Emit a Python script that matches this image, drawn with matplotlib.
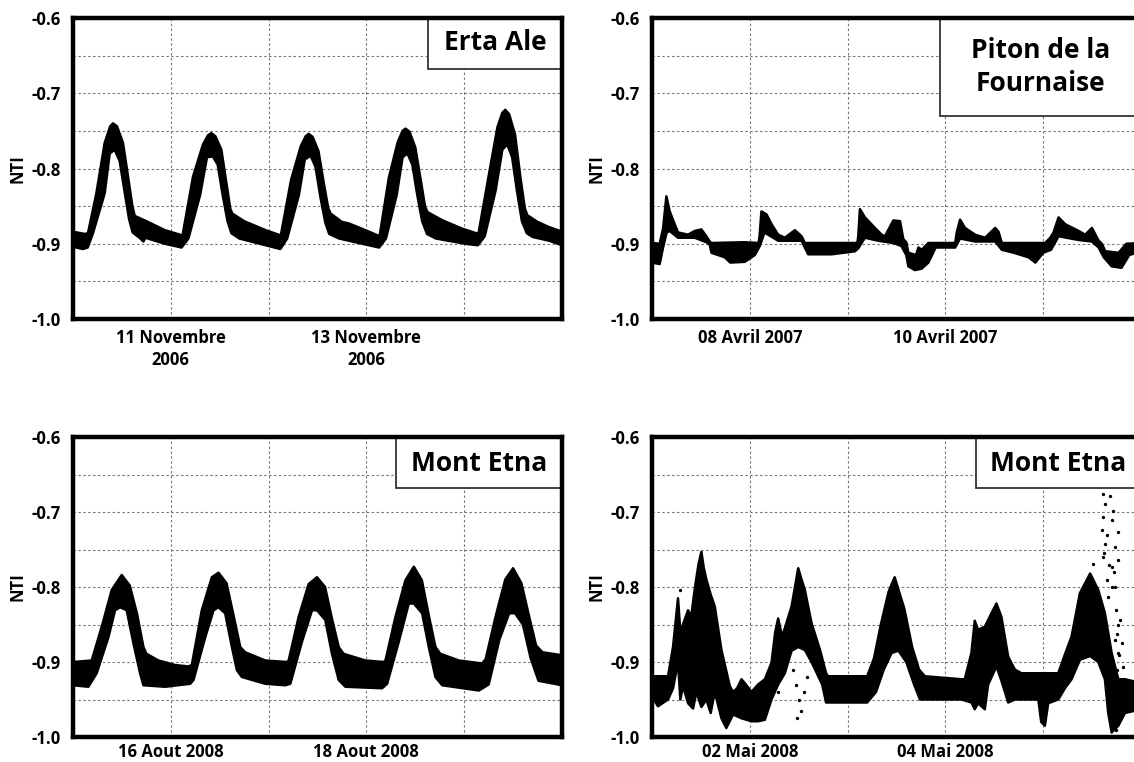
import numpy as np
import matplotlib
matplotlib.use("Agg")
import matplotlib.pyplot as plt
from matplotlib.patches import Rectangle
from matplotlib.ticker import MultipleLocator, FixedLocator

plt.rcParams['font.family'] = ['Open Sans', 'DejaVu Sans']
plt.rcParams['font.weight'] = 'bold'

# ---------------- data (days since panel start, NTI) ----------------
# Erta Ale, Nov 2006 : upper / lower envelope of the dense point cloud
erta_days_up = [0.000, 0.120, 0.153, 0.239, 0.324, 0.380, 0.409, 0.450, 0.511, 0.562, 0.607, 0.631, 0.750, 0.940, 1.120,
                1.227, 1.329, 1.380, 1.414, 1.455, 1.517, 1.568, 1.609, 1.630, 1.750, 1.970, 2.125,
                2.230, 2.330, 2.380, 2.410, 2.450, 2.510, 2.565, 2.610, 2.635, 2.750, 2.820, 2.990, 3.135,
                3.230, 3.320, 3.370, 3.400, 3.440, 3.500, 3.555, 3.600, 3.625, 3.780, 3.980, 4.145,
                4.250, 4.340, 4.390, 4.420, 4.460, 4.520, 4.575, 4.620, 4.645, 4.750, 4.870, 5.000]
erta_nti_up = [-0.884, -0.887, -0.886, -0.833, -0.766, -0.744, -0.740, -0.744, -0.766, -0.810, -0.850, -0.863, -0.870, -0.882, -0.889,
               -0.811, -0.768, -0.756, -0.753, -0.757, -0.775, -0.819, -0.854, -0.860, -0.870, -0.882, -0.889,
               -0.815, -0.770, -0.757, -0.754, -0.758, -0.777, -0.820, -0.853, -0.860, -0.871, -0.873, -0.882, -0.890,
               -0.812, -0.765, -0.750, -0.747, -0.751, -0.772, -0.815, -0.851, -0.858, -0.869, -0.880, -0.887,
               -0.810, -0.745, -0.726, -0.722, -0.728, -0.755, -0.812, -0.853, -0.862, -0.871, -0.878, -0.884]
erta_days_lo = [0.000, 0.100, 0.150, 0.204, 0.324, 0.375, 0.426, 0.477, 0.528, 0.573, 0.610, 0.680, 0.720, 0.740, 0.940, 1.110,
                1.180, 1.300, 1.370, 1.430, 1.480, 1.530, 1.580, 1.620, 1.700, 1.850, 2.120,
                2.190, 2.310, 2.370, 2.430, 2.480, 2.530, 2.580, 2.620, 2.720, 2.890, 3.130,
                3.200, 3.310, 3.370, 3.420, 3.470, 3.520, 3.570, 3.620, 3.710, 4.010, 4.140,
                4.210, 4.320, 4.390, 4.440, 4.490, 4.540, 4.590, 4.640, 4.700, 4.870, 5.000]
erta_nti_lo = [-0.904, -0.907, -0.905, -0.886, -0.833, -0.780, -0.775, -0.790, -0.831, -0.867, -0.885, -0.892, -0.897, -0.892, -0.900, -0.905,
               -0.893, -0.835, -0.785, -0.784, -0.795, -0.835, -0.870, -0.886, -0.893, -0.898, -0.907,
               -0.893, -0.835, -0.788, -0.783, -0.798, -0.838, -0.872, -0.887, -0.893, -0.898, -0.905,
               -0.893, -0.835, -0.785, -0.780, -0.795, -0.835, -0.870, -0.887, -0.893, -0.900, -0.902,
               -0.890, -0.830, -0.775, -0.768, -0.785, -0.830, -0.870, -0.886, -0.891, -0.896, -0.902]

# Piton de la Fournaise, Apr 2007
piton_days_up = [0.000, 0.078, 0.113, 0.147, 0.181, 0.232, 0.266, 0.369, 0.437, 0.505, 0.556, 0.590, 0.608, 0.950, 1.090,
                 1.100, 1.119, 1.171, 1.222, 1.290, 1.358, 1.461, 1.529, 1.563, 2.100,
                 2.109, 2.126, 2.177, 2.280, 2.348, 2.382, 2.468, 2.536, 2.570, 2.600, 2.621, 2.700, 2.724, 2.758, 2.826, 3.100,
                 3.116, 3.150, 3.201, 3.304, 3.406, 3.509, 3.543, 3.577, 4.020, 4.072, 4.106,
                 4.157, 4.225, 4.362, 4.430, 4.498, 4.567, 4.600, 4.635, 4.771, 4.850, 5.000]
piton_nti_up = [-0.899, -0.900, -0.880, -0.837, -0.857, -0.874, -0.885, -0.888, -0.883, -0.881, -0.890, -0.897, -0.899, -0.898, -0.899,
                -0.890, -0.857, -0.861, -0.874, -0.888, -0.892, -0.882, -0.890, -0.899, -0.899,
                -0.890, -0.854, -0.865, -0.879, -0.888, -0.890, -0.869, -0.870, -0.894, -0.898, -0.912, -0.915, -0.905, -0.908, -0.899, -0.899,
                -0.885, -0.868, -0.879, -0.888, -0.892, -0.879, -0.884, -0.899, -0.899, -0.892, -0.885,
                -0.865, -0.874, -0.883, -0.888, -0.879, -0.896, -0.900, -0.910, -0.912, -0.900, -0.899]
piton_days_lo = [0.000, 0.078, 0.113, 0.150, 0.181, 0.266, 0.437, 0.556, 0.590, 0.608, 0.744, 0.800, 0.949, 1.051, 1.102,
                 1.150, 1.290, 1.530, 1.563, 1.597, 1.836, 2.075, 2.109,
                 2.177, 2.314, 2.468, 2.550, 2.600, 2.621, 2.689, 2.758, 2.826, 2.900, 3.100,
                 3.150, 3.304, 3.509, 3.577, 3.700, 3.850, 3.920, 4.000, 4.080,
                 4.157, 4.362, 4.498, 4.567, 4.620, 4.700, 4.800, 4.880, 5.000]
piton_nti_lo = [-0.925, -0.927, -0.905, -0.885, -0.883, -0.892, -0.892, -0.898, -0.901, -0.912, -0.918, -0.925, -0.924, -0.915, -0.903,
                -0.885, -0.896, -0.896, -0.905, -0.914, -0.914, -0.910, -0.906,
                -0.892, -0.896, -0.899, -0.903, -0.915, -0.930, -0.935, -0.933, -0.925, -0.905, -0.905,
                -0.893, -0.897, -0.897, -0.908, -0.912, -0.918, -0.925, -0.912, -0.908,
                -0.890, -0.895, -0.897, -0.905, -0.918, -0.930, -0.932, -0.915, -0.910]

# Mont Etna, Aug 2008
etna08a_days_up = [0.000, 0.191, 0.294, 0.396, 0.498, 0.580, 0.655, 0.720, 0.750, 0.874, 1.044, 1.181,
                   1.215, 1.317, 1.420, 1.488, 1.570, 1.645, 1.710, 1.760, 1.966, 2.188,
                   2.205, 2.307, 2.410, 2.495, 2.577, 2.651, 2.717, 2.765, 2.990, 3.177,
                   3.195, 3.297, 3.399, 3.485, 3.567, 3.641, 3.706, 3.755, 3.945, 4.184,
                   4.220, 4.320, 4.420, 4.500, 4.585, 4.665, 4.735, 4.800, 5.000]
etna08a_nti_up = [-0.900, -0.898, -0.853, -0.804, -0.784, -0.798, -0.836, -0.880, -0.889, -0.898, -0.904, -0.906,
                  -0.904, -0.831, -0.787, -0.781, -0.795, -0.840, -0.880, -0.887, -0.898, -0.900,
                  -0.898, -0.840, -0.796, -0.787, -0.800, -0.844, -0.880, -0.889, -0.898, -0.900,
                  -0.898, -0.840, -0.791, -0.773, -0.791, -0.840, -0.880, -0.889, -0.898, -0.902,
                  -0.896, -0.840, -0.790, -0.775, -0.795, -0.840, -0.878, -0.887, -0.891]
etna08a_days_lo = [0.000, 0.157, 0.242, 0.362, 0.430, 0.481, 0.549, 0.618, 0.686, 0.720, 0.942, 1.198,
                   1.232, 1.352, 1.437, 1.488, 1.556, 1.625, 1.676, 1.727, 1.966, 2.171,
                   2.222, 2.341, 2.444, 2.495, 2.580, 2.648, 2.717, 2.785, 3.160,
                   3.212, 3.331, 3.433, 3.485, 3.570, 3.638, 3.706, 3.775, 4.150,
                   4.250, 4.360, 4.460, 4.520, 4.600, 4.680, 4.760, 5.000]
etna08a_nti_lo = [-0.931, -0.933, -0.915, -0.867, -0.831, -0.827, -0.831, -0.875, -0.915, -0.931, -0.933, -0.929,
                  -0.924, -0.867, -0.831, -0.827, -0.835, -0.880, -0.911, -0.920, -0.929, -0.931,
                  -0.929, -0.873, -0.831, -0.831, -0.844, -0.889, -0.924, -0.933, -0.935,
                  -0.929, -0.873, -0.822, -0.822, -0.835, -0.880, -0.920, -0.931, -0.938,
                  -0.930, -0.870, -0.835, -0.835, -0.850, -0.895, -0.925, -0.931]

# Mont Etna, May 2008
etna08b_days_up = [0.000, 0.164, 0.215, 0.266, 0.290, 0.317, 0.369, 0.400, 0.440, 0.475, 0.505, 0.530, 0.556, 0.600, 0.642,
                   0.710, 0.795, 0.829, 0.870, 0.915, 0.960, 1.017, 1.085, 1.154, 1.222, 1.260, 1.290, 1.330, 1.358,
                   1.427, 1.495, 1.529, 1.563, 1.631, 1.720, 1.780, 1.800, 2.200, 2.270, 2.340, 2.420, 2.481, 2.580,
                   2.660, 2.730, 2.790, 3.164, 3.198, 3.266, 3.300, 3.334, 3.403, 3.471, 3.522, 3.573, 3.642, 3.710,
                   3.778, 4.154, 4.222, 4.290, 4.376, 4.480, 4.563, 4.631, 4.700, 4.768, 4.836, 5.000]
etna08b_nti_up = [-0.919, -0.919, -0.880, -0.815, -0.860, -0.850, -0.831, -0.840, -0.800, -0.770, -0.753, -0.775, -0.790, -0.810, -0.826,
                  -0.884, -0.932, -0.940, -0.935, -0.923, -0.930, -0.940, -0.930, -0.923, -0.901, -0.860, -0.842, -0.866, -0.855,
                  -0.826, -0.775, -0.790, -0.804, -0.848, -0.885, -0.915, -0.919, -0.919, -0.895, -0.850, -0.806, -0.787, -0.829,
                  -0.880, -0.910, -0.919, -0.923, -0.923, -0.888, -0.845, -0.857, -0.853, -0.835, -0.822, -0.840, -0.893, -0.910,
                  -0.915, -0.915, -0.890, -0.866, -0.808, -0.782, -0.804, -0.835, -0.888, -0.923, -0.923, -0.928]
etna08b_days_lo = [0.000, 0.061, 0.164, 0.215, 0.266, 0.290, 0.317, 0.369, 0.420, 0.454, 0.505, 0.556, 0.600, 0.642, 0.710,
                   0.760, 0.829, 0.915, 1.017, 1.085, 1.154, 1.222, 1.290, 1.358, 1.427, 1.495, 1.563, 1.631, 1.740,
                   1.780, 2.200, 2.290, 2.370, 2.450, 2.520, 2.600, 2.680, 2.740, 3.164, 3.266, 3.300, 3.334, 3.403,
                   3.437, 3.522, 3.573, 3.642, 3.710, 3.950, 3.980, 4.017, 4.051, 4.154, 4.222, 4.290, 4.376, 4.480,
                   4.563, 4.631, 4.665, 4.700, 4.768, 4.836, 5.000]
etna08b_nti_lo = [-0.946, -0.959, -0.950, -0.935, -0.900, -0.950, -0.932, -0.955, -0.962, -0.940, -0.960, -0.950, -0.968, -0.940, -0.975,
                  -0.988, -0.970, -0.975, -0.979, -0.979, -0.977, -0.950, -0.930, -0.915, -0.885, -0.880, -0.884, -0.900, -0.930,
                  -0.954, -0.954, -0.940, -0.910, -0.888, -0.885, -0.900, -0.930, -0.950, -0.950, -0.954, -0.963, -0.955, -0.963,
                  -0.930, -0.906, -0.925, -0.954, -0.950, -0.950, -0.980, -0.985, -0.955, -0.950, -0.935, -0.923, -0.897, -0.892,
                  -0.900, -0.923, -0.968, -0.994, -0.985, -0.968, -0.963]
# isolated points outside the main cloud (May 2008)
etna08b_dots_days = [0.283, 1.290, 1.440, 1.470, 1.500, 1.520, 1.550, 1.580, 1.480, 4.376, 4.512, 4.597, 4.614, 4.614,
                     4.614, 4.631, 4.631, 4.648, 4.665, 4.683, 4.700, 4.700, 4.717, 4.734, 4.734, 4.751, 4.768, 4.768,
                     4.768, 4.785, 4.802, 4.819, 4.620, 4.650, 4.670, 4.700, 4.720, 4.740, 4.760, 4.730, 4.780, 4.750,
                     4.800, 4.770, 4.720, 4.740, 4.690, 4.810]
etna08b_dots_nti = [-0.804, -0.940, -0.910, -0.930, -0.950, -0.965, -0.940, -0.920, -0.975, -0.808, -0.769, -0.724, -0.676, -0.707,
                    -0.760, -0.689, -0.742, -0.791, -0.813, -0.678, -0.711, -0.773, -0.698, -0.746, -0.800, -0.862, -0.727, -0.764,
                    -0.888, -0.844, -0.875, -0.906, -0.755, -0.730, -0.770, -0.800, -0.780, -0.830, -0.850, -0.870, -0.890, -0.910,
                    -0.930, -0.950, -0.970, -0.990, -0.980, -0.960]

tick_days = [1, 2, 3, 4]
labels_erta = ['11 Novembre\n2006', '', '13 Novembre\n2006', '']
labels_piton = ['08 Avril 2007', '', '10 Avril 2007', '']
labels_etna_aug = ['16 Aout 2008', '', '18 Aout 2008', '']
labels_etna_may = ['02 Mai 2008', '', '04 Mai 2008', '']

# ---------------- figure ----------------
W, H = 1134, 762
fig = plt.figure(figsize=(W / 100, H / 100), dpi=100)


def px_axes(left, top, width, height):
    return fig.add_axes([left / W, 1 - (top + height) / H, width / W, height / H])


def draw_panel(ax, du, vu, dl, vl, ticklabels, box, text, text_xy, xpad, dots=None):
    xs = np.concatenate([du, dl[::-1]])
    ys = np.concatenate([vu, vl[::-1]])
    ax.fill(xs, ys, facecolor='black', edgecolor='black', lw=1.8, joinstyle='round', zorder=3)
    if dots is not None:
        ax.plot(dots[0], dots[1], ls='none', marker='o', ms=1.4, color='black', zorder=3)
    ax.set_xlim(0, 5)
    ax.set_ylim(-1.0, -0.6)
    ax.xaxis.set_major_locator(FixedLocator(tick_days))
    ax.set_xticklabels(ticklabels, fontsize=12, fontweight='bold', linespacing=1.3)
    ax.yaxis.set_minor_locator(MultipleLocator(0.05))
    ax.set_yticks([-1.0, -0.9, -0.8, -0.7, -0.6])
    ax.set_yticklabels(['-1.0', '-0.9', '-0.8', '-0.7', '-0.6'], fontsize=12, fontweight='bold')
    ax.tick_params(which='both', length=0)
    ax.tick_params(axis='y', pad=9)
    ax.tick_params(axis='x', pad=xpad)
    ax.grid(True, which='major', color='#777777', ls=(0, (2.2, 2.2)), lw=0.8)
    ax.grid(True, which='minor', axis='y', color='#777777', ls=(0, (2.2, 2.2)), lw=0.8)
    ax.set_axisbelow(True)
    for s in ax.spines.values():
        s.set_linewidth(3.2)
        s.set_color('black')
        s.set_zorder(6)
    ax.set_ylabel('NTI', fontsize=12, fontweight='bold')
    ax.yaxis.set_label_coords(-0.095, 0.5)
    x0, y0, w, h = box
    ax.add_patch(Rectangle((x0, y0), w, h, transform=ax.transAxes,
                           facecolor='white', edgecolor='#333333', lw=1.3, zorder=5, clip_on=True))
    ax.text(text_xy[0], text_xy[1], text, transform=ax.transAxes, ha='center', va='center',
            fontsize=19, fontweight='bold', linespacing=1.3, zorder=7)


ax1 = px_axes(73, 18, 489, 301)
ax2 = px_axes(652, 18, 489, 301)
ax3 = px_axes(73, 437, 489, 300)
ax4 = px_axes(652, 437, 489, 300)

draw_panel(ax1, erta_days_up, erta_nti_up, erta_days_lo, erta_nti_lo, labels_erta,
           (0.726, 0.831, 0.274, 0.2), 'Erta Ale', (0.863, 0.917), 7)
draw_panel(ax2, piton_days_up, piton_nti_up, piton_days_lo, piton_nti_lo, labels_piton,
           (0.589, 0.674, 0.5, 0.4), 'Piton de la\nFournaise', (0.795, 0.837), 7)
draw_panel(ax3, etna08a_days_up, etna08a_nti_up, etna08a_days_lo, etna08a_nti_lo, labels_etna_aug,
           (0.661, 0.830, 0.339, 0.2), 'Mont Etna', (0.830, 0.913), 4)
draw_panel(ax4, etna08b_days_up, etna08b_nti_up, etna08b_days_lo, etna08b_nti_lo, labels_etna_may,
           (0.663, 0.830, 0.5, 0.2), 'Mont Etna', (0.830, 0.913), 4,
           dots=(etna08b_dots_days, etna08b_dots_nti))

fig.savefig('out.png', dpi=100)
